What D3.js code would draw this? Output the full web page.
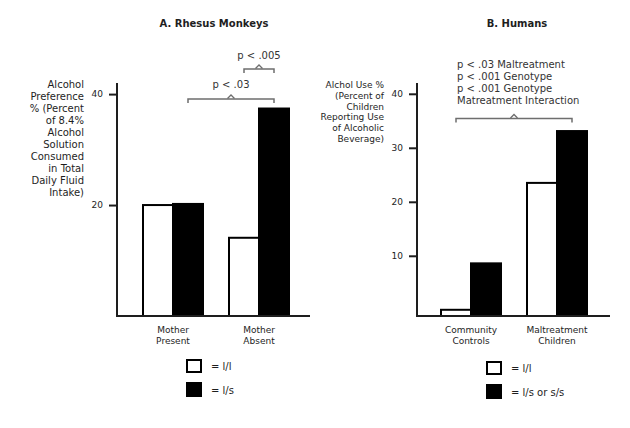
<!DOCTYPE html>
<html>
<head>
<meta charset="utf-8">
<script src="https://cdn.jsdelivr.net/npm/d3@7/dist/d3.min.js"></script>
<style>
  html, body { margin: 0; padding: 0; background: #fff; }
  svg { display: block; font-family: "DejaVu Sans", Verdana, sans-serif; }
</style>
</head>
<body>
<svg id="chart" width="630" height="428"></svg>
<script>
// ---- Data ----
const monkeyCategories = ["Mother Present", "Mother Absent"];
const monkeyLL = [20.0, 14.1];      // l/l genotype
const monkeyLS = [20.2, 37.4];      // l/s genotype
const monkeyTicks = [20, 40];
const monkeyLegend = ["= l/l", "= l/s"];

const humanCategories = ["Community Controls", "Maltreatment Children"];
const humanLL = [0.0, 23.5];        // l/l genotype
const humanLS = [8.6, 33.1];        // l/s or s/s genotype
const humanTicks = [10, 20, 30, 40];
const humanLegend = ["= l/l", "= l/s or s/s"];

const genotypes = ["ll", "ls"];

const monkeyYLabel = ["Alcohol", "Preference", "% (Percent", "of 8.4%", "Alcohol",
  "Solution", "Consumed", "in Total", "Daily Fluid", "Intake)"];
const humanYLabel = ["Alchol Use %", "(Percent of", "Children", "Reporting Use",
  "of Alcoholic", "Beverage)"];
const humanNotes = ["p < .03 Maltreatment", "p < .001 Genotype", "p < .001 Genotype",
  "Matreatment Interaction"];

// ---- Drawing ----
const svg = d3.select("#chart");
const INK = "#1e1e1e";
const GRAY = "#6e6e6e";

function drawPanel(cfg) {
  const g = svg.append("g");
  const y = d3.scaleLinear().domain(cfg.yDomain).range([316, 83]);
  const x = d3.scaleBand().domain(cfg.cats)
    .range([cfg.x0 + cfg.off, cfg.x0 + cfg.off + 146])
    .paddingInner(26 / 86).paddingOuter(0);
  const sub = d3.scaleBand().domain(genotypes).range([0, x.bandwidth()]);
  const base = y(cfg.yDomain[0]);

  // title
  g.append("text").attr("x", cfg.titleX).attr("y", 27)
    .attr("text-anchor", "middle").attr("font-size", 10).attr("font-weight", "bold")
    .attr("fill", INK).text(cfg.title);

  // bars
  const rows = cfg.cats.map((c, i) => ({ cat: c, vals: [cfg.ll[i], cfg.ls[i]] }));
  rows.forEach(r => {
    genotypes.forEach((k, j) => {
      const v = r.vals[j];
      g.append("rect")
        .attr("x", x(r.cat) + sub(k))
        .attr("y", y(v))
        .attr("width", sub.bandwidth())
        .attr("height", base - y(v))
        .attr("fill", j === 0 ? "#fff" : "#000")
        .attr("stroke", "#000").attr("stroke-width", 2);
    });
  });

  // y axis
  const ax = g.append("g").attr("transform", `translate(${cfg.x0},0)`)
    .call(d3.axisLeft(y).tickValues(cfg.ticks).tickSize(8).tickSizeOuter(0).tickPadding(6));
  ax.select(".domain").attr("stroke", INK).attr("stroke-width", 2).attr("d", `M0,${base + 1}V83`);
  ax.selectAll(".tick line").attr("stroke", INK).attr("stroke-width", 2);
  ax.selectAll(".tick text").attr("font-size", 9).attr("fill", INK)
    .attr("font-family", "DejaVu Sans, Verdana, sans-serif");

  // x axis line
  g.append("line").attr("x1", cfg.x0 - 1).attr("x2", cfg.x0 + 193)
    .attr("y1", base).attr("y2", base).attr("stroke", INK).attr("stroke-width", 2);

  // category labels
  cfg.cats.forEach(c => {
    const words = c.split(" ");
    const t = g.append("text").attr("text-anchor", "middle").attr("font-size", 9).attr("fill", INK);
    words.forEach((w, i) => {
      t.append("tspan").attr("x", x(c) + x.bandwidth() / 2).attr("y", 333 + i * 11).text(w);
    });
  });

  // y label
  const yl = g.append("text").attr("text-anchor", "end").attr("font-size", cfg.ylSize).attr("fill", INK);
  cfg.ylabel.forEach((s, i) => {
    yl.append("tspan").attr("x", cfg.ylX).attr("y", 88 + i * cfg.ylDy).text(s);
  });

  // legend
  cfg.legend.forEach((s, i) => {
    const ly = cfg.legY + i * 23;
    g.append("rect").attr("x", cfg.legX).attr("y", ly).attr("width", 14).attr("height", i === 0 ? 12 : 13)
      .attr("fill", i === 0 ? "#fff" : "#000").attr("stroke", "#000").attr("stroke-width", 2);
    g.append("text").attr("x", cfg.legX + 24).attr("y", ly + 10 + i).attr("font-size", 10)
      .attr("fill", INK).text(s);
  });

  return { x, sub, y };
}

function bracket(g, x1, x2, yy) {
  const cx = (x1 + x2) / 2;
  g.append("path")
    .attr("d", `M${x1},${yy + 4}V${yy}H${x2}V${yy + 4}`)
    .attr("fill", "none").attr("stroke", GRAY).attr("stroke-width", 1.5);
  g.append("path")
    .attr("d", `M${cx - 3.5},${yy - 0.5}L${cx},${yy - 4}L${cx + 3.5},${yy - 0.5}`)
    .attr("fill", "none").attr("stroke", GRAY).attr("stroke-width", 1.3);
  return cx;
}

const A = drawPanel({
  x0: 117, off: 26, yDomain: [0, 42], ticks: monkeyTicks,
  cats: monkeyCategories, ll: monkeyLL, ls: monkeyLS,
  title: "A. Rhesus Monkeys", titleX: 214,
  ylabel: monkeyYLabel, ylX: 84, ylDy: 12, ylSize: 10,
  legend: monkeyLegend, legX: 187, legY: 360
});

const B = drawPanel({
  x0: 417, off: 24, yDomain: [-1.15, 42], ticks: humanTicks,
  cats: humanCategories, ll: humanLL, ls: humanLS,
  title: "B. Humans", titleX: 517,
  ylabel: humanYLabel, ylX: 384, ylDy: 10.8, ylSize: 9,
  legend: humanLegend, legX: 487, legY: 362
});

// significance annotations
const ann = svg.append("g");
function barCenter(P, cat, k) { return P.x(cat) + P.sub(k) + P.sub.bandwidth() / 2; }

let cx = bracket(ann, barCenter(A, monkeyCategories[1], "ll"), barCenter(A, monkeyCategories[1], "ls"), 69);
ann.append("text").attr("x", cx).attr("y", 59).attr("text-anchor", "middle")
  .attr("font-size", 10).attr("fill", "#333").text("p < .005");

cx = bracket(ann, barCenter(A, monkeyCategories[0], "ls"), barCenter(A, monkeyCategories[1], "ls"), 99);
ann.append("text").attr("x", cx).attr("y", 88).attr("text-anchor", "middle")
  .attr("font-size", 10).attr("fill", "#333").text("p < .03");

const bx1 = barCenter(B, humanCategories[0], "ll");
bracket(ann, bx1, barCenter(B, humanCategories[1], "ls"), 118.5);
const nt = ann.append("text").attr("font-size", 10).attr("fill", "#333");
humanNotes.forEach((s, i) => {
  nt.append("tspan").attr("x", bx1 + 1).attr("y", 68 + i * 12).text(s);
});
</script>
</body>
</html>
